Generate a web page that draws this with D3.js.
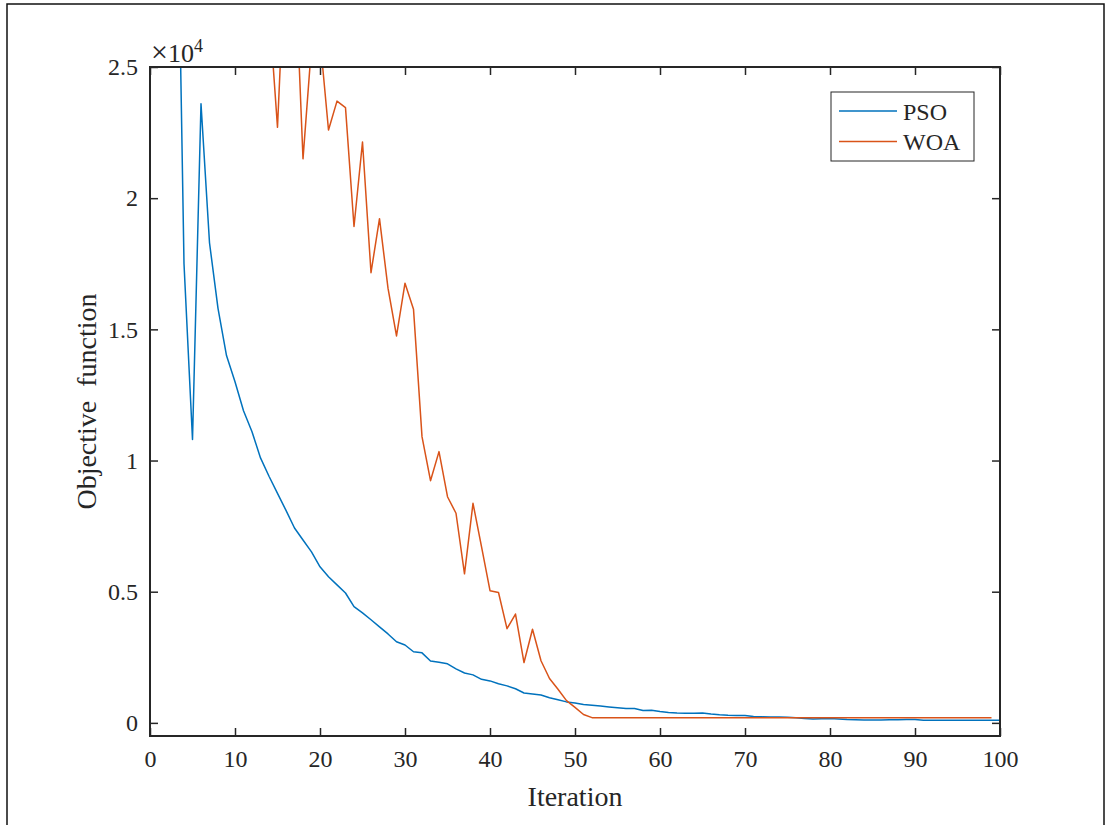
<!DOCTYPE html>
<html>
<head>
<meta charset="utf-8">
<script src="https://cdn.jsdelivr.net/npm/d3@7"></script>
<style>
  html, body { margin: 0; padding: 0; background: #fff; }
  svg { display: block; }
  text { font-family: "Liberation Serif", "Times New Roman", serif; fill: #262626; }
</style>
</head>
<body>
<svg id="chart" width="1105" height="825"></svg>
<script>
// Convergence curves of the objective function per iteration
const psoIter = d3.range(1, 101);
const psoValues = [
  52000, 45000, 36700, 17500, 10800, 23600, 18300, 15800, 14000, 13000,
  11900, 11100, 10100, 9400, 8750, 8100, 7430, 6970, 6520, 5950,
  5570, 5260, 4950, 4430, 4190, 3930, 3660, 3390, 3090, 2970,
  2710, 2670, 2360, 2310, 2250, 2060, 1900, 1830, 1660, 1600,
  1490, 1410, 1300, 1140, 1100, 1060, 960, 880, 800, 760,
  700, 670, 640, 610, 580, 550, 550, 470, 480, 430,
  400, 380, 370, 370, 380, 340, 310, 290, 280, 280,
  240, 230, 225, 220, 210, 200, 170, 150, 160, 170,
  150, 130, 120, 110, 110, 110, 115, 120, 125, 130,
  100, 100, 100, 100, 100, 100, 100, 100, 100, 100
];

const woaIter = d3.range(1, 100);
const woaValues = [
  95000, 88000, 80000, 72000, 66000, 60000, 54000, 49000, 44000, 39000,
  35000, 32000, 29500, 27300, 22700, 30000, 29500, 21500, 25800, 26100,
  22600, 23700, 23450, 18920, 22140, 17160, 19220, 16570, 14750, 16760,
  15770, 10910, 9230, 10340, 8620, 7990, 5680, 8370, 6720, 5040,
  4970, 3590, 4150, 2300, 3570, 2370, 1690, 1280, 850, 590,
  320, 200, 200, 200, 200, 200, 200, 200, 200, 200,
  200, 200, 200, 200, 200, 200, 200, 200, 200, 200,
  200, 200, 200, 200, 200, 200, 200, 200, 200, 200,
  200, 200, 200, 200, 200, 200, 200, 200, 200, 200,
  200, 200, 200, 200, 200, 200, 200, 200, 200
];

const seriesNames = ["PSO", "WOA"];
const seriesColors = ["#0072BD", "#D95319"];
const xTicks = d3.range(0, 101, 10);
const yTicks = [0, 5000, 10000, 15000, 20000, 25000];

const svg = d3.select("#chart");
const axisColor = "#262626";

// outer figure frame
svg.append("rect")
  .attr("x", 7).attr("y", 4).attr("width", 1097).attr("height", 840)
  .attr("fill", "none").attr("stroke", "#111").attr("stroke-width", 1.5);

const plotLeft = 150, plotRight = 1000, plotTop = 67, plotBottom = 736;
const x = d3.scaleLinear().domain([0, 100]).range([plotLeft, plotRight]);
const y = d3.scaleLinear().domain([-500, 25000]).range([plotBottom, plotTop]);

svg.append("defs").append("clipPath").attr("id", "plotClip")
  .append("rect").attr("x", plotLeft).attr("y", plotTop)
  .attr("width", plotRight - plotLeft).attr("height", plotBottom - plotTop);

// series lines
const line = d3.line().x(d => x(d[0])).y(d => y(d[1]));
const series = [
  psoIter.map((it, i) => [it, psoValues[i]]),
  woaIter.map((it, i) => [it, woaValues[i]])
];
const plot = svg.append("g").attr("clip-path", "url(#plotClip)");
series.forEach((s, k) => {
  plot.append("path").datum(s)
    .attr("fill", "none")
    .attr("stroke", seriesColors[k])
    .attr("stroke-width", 1.5)
    .attr("stroke-linejoin", "round")
    .attr("d", line);
});

// axes with inward ticks on all four sides
const tickLen = 8;
const fmtY = v => d3.format("~g")(v / 10000);

const xAxisB = d3.axisBottom(x).tickValues(xTicks).tickSizeInner(-tickLen).tickSizeOuter(0).tickPadding(14);
const xAxisT = d3.axisTop(x).tickValues(xTicks).tickSizeInner(-tickLen).tickSizeOuter(0).tickFormat("");
const yAxisL = d3.axisLeft(y).tickValues(yTicks).tickSizeInner(-tickLen).tickSizeOuter(0).tickPadding(12).tickFormat(fmtY);
const yAxisR = d3.axisRight(y).tickValues(yTicks).tickSizeInner(-tickLen).tickSizeOuter(0).tickFormat("");

function styleAxis(g) {
  g.select(".domain").remove();
  g.selectAll(".tick line").attr("stroke", axisColor).attr("stroke-width", 1.5);
  g.selectAll(".tick text")
    .attr("fill", axisColor)
    .style("font-family", '"Liberation Serif", "Times New Roman", serif')
    .style("font-size", "24px");
}

svg.append("g").attr("transform", `translate(0,${plotBottom})`).call(xAxisB).call(styleAxis);
svg.append("g").attr("transform", `translate(0,${plotTop})`).call(xAxisT).call(styleAxis);
svg.append("g").attr("transform", `translate(${plotLeft},0)`).call(yAxisL).call(styleAxis);
svg.append("g").attr("transform", `translate(${plotRight},0)`).call(yAxisR).call(styleAxis);

// axes box
svg.append("rect")
  .attr("x", plotLeft).attr("y", plotTop)
  .attr("width", plotRight - plotLeft).attr("height", plotBottom - plotTop)
  .attr("fill", "none").attr("stroke", axisColor).attr("stroke-width", 2);

// exponent marker
const expo = svg.append("text").attr("x", 151).attr("y", 62).style("font-size", "26px");
expo.append("tspan").style("font-size", "30px").text("\u00d7");
expo.append("tspan").text("10");
expo.append("tspan").attr("dy", -10).style("font-size", "18px").text("4");

// axis labels
svg.append("text")
  .attr("x", (plotLeft + plotRight) / 2).attr("y", 806)
  .attr("text-anchor", "middle").style("font-size", "28px")
  .text("Iteration");

svg.append("text")
  .attr("transform", `translate(96,${(plotTop + plotBottom) / 2}) rotate(-90)`)
  .attr("text-anchor", "middle").style("font-size", "28px")
  .style("white-space", "pre")
  .text("Objective  function");

// legend
const lg = svg.append("g");
lg.append("rect")
  .attr("x", 831).attr("y", 92).attr("width", 143).attr("height", 69)
  .attr("fill", "#fff").attr("stroke", axisColor).attr("stroke-width", 1);
seriesNames.forEach((name, k) => {
  const ly = 111 + k * 30.5;
  lg.append("line")
    .attr("x1", 839).attr("x2", 897).attr("y1", ly).attr("y2", ly)
    .attr("stroke", seriesColors[k]).attr("stroke-width", 1.5);
  lg.append("text")
    .attr("x", 903).attr("y", ly + 8.5)
    .style("font-size", "24px")
    .text(name);
});
</script>
</body>
</html>
